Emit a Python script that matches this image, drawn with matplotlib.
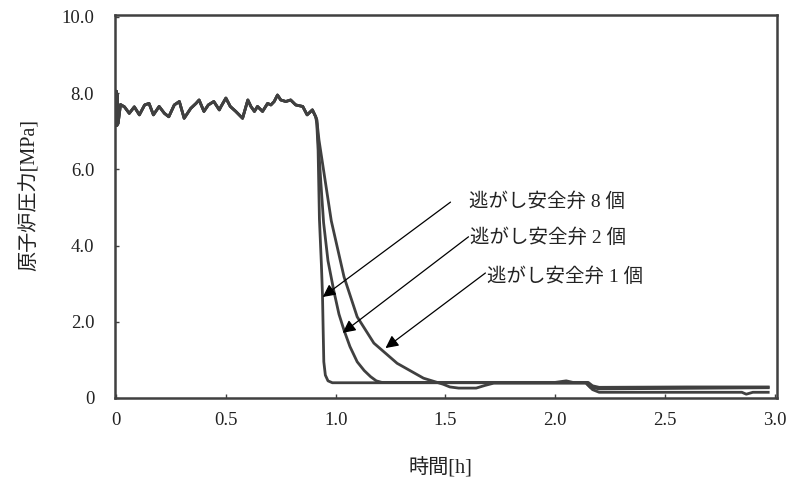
import matplotlib
matplotlib.use("Agg")
import matplotlib.pyplot as plt
import numpy as np

# 共通部分（減圧開始前の圧力変動） [h], [MPa]
t_common = [0.0, 0.002, 0.004, 0.006, 0.009, 0.02, 0.038, 0.06, 0.083, 0.106, 0.13, 0.15, 0.17,
            0.196, 0.22, 0.24, 0.265, 0.288, 0.31, 0.34, 0.364, 0.378, 0.40, 0.42, 0.445,
            0.47, 0.477, 0.50, 0.52, 0.545, 0.576, 0.60, 0.614, 0.63, 0.644, 0.667, 0.69,
            0.705, 0.72, 0.735, 0.75, 0.773, 0.795, 0.818, 0.85, 0.87, 0.894, 0.909]
p_common = [7.7, 8.05, 7.15, 7.95, 7.2, 7.70, 7.64, 7.47, 7.64, 7.43, 7.69, 7.73, 7.43,
            7.65, 7.47, 7.38, 7.69, 7.78, 7.34, 7.60, 7.73, 7.82, 7.52, 7.69, 7.78,
            7.56, 7.64, 7.87, 7.65, 7.52, 7.34, 7.82, 7.65, 7.52, 7.65, 7.52, 7.73,
            7.69, 7.78, 7.95, 7.82, 7.78, 7.82, 7.69, 7.65, 7.43, 7.56, 7.38]

# 逃がし安全弁 8 個
t_8 = [0.914, 0.92, 0.926, 0.935, 0.94, 0.943, 0.946, 0.953, 0.965, 0.985, 1.5, 2.14,
       2.16, 2.2, 2.5, 2.97]
p_8 = [7.2, 6.5, 4.7, 3.5, 2.7, 1.8, 0.95, 0.6, 0.45, 0.40, 0.40, 0.40,
       0.28, 0.24, 0.25, 0.27]

# 逃がし安全弁 2 個
t_2 = [0.914, 0.922, 0.932, 0.945, 0.965, 0.992, 1.015, 1.038, 1.065, 1.098, 1.13, 1.159,
       1.185, 1.21, 1.6, 2.0, 2.05, 2.08, 2.15, 2.17, 2.2, 2.6, 2.97]
p_2 = [7.3, 6.6, 5.7, 4.6, 3.6, 2.8, 2.2, 1.78, 1.35, 0.95, 0.72, 0.56,
       0.45, 0.41, 0.41, 0.41, 0.45, 0.41, 0.41, 0.32, 0.28, 0.29, 0.29]

# 逃がし安全弁 1 個
t_1 = [0.914, 0.924, 0.947, 0.98, 1.038, 1.098, 1.174, 1.28, 1.40, 1.49, 1.52, 1.56,
       1.64, 1.68, 1.72, 2.14, 2.17, 2.2, 2.85, 2.87, 2.9, 2.97]
p_1 = [7.3, 6.77, 5.9, 4.65, 3.18, 2.13, 1.44, 0.91, 0.52, 0.36, 0.29, 0.26,
       0.26, 0.33, 0.39, 0.39, 0.22, 0.15, 0.15, 0.10, 0.15, 0.15]

# 注記（文字位置と矢印）
labels = ["逃がし安全弁 8 個", "逃がし安全弁 2 個", "逃がし安全弁 1 個"]
label_xy = [(1.605, 5.14), (1.614, 4.20), (1.69, 3.18)]
arrow_from = [(1.523, 5.14), (1.605, 4.23), (1.682, 3.28)]
arrow_to = [(0.941, 2.65), (1.032, 1.71), (1.227, 1.31)]

xticks = [0, 0.5, 1.0, 1.5, 2.0, 2.5, 3.0]
xticklabels = ["0", "0.5", "1.0", "1.5", "2.0", "2.5", "3.0"]
yticks = [0, 2, 4, 6, 8, 10]
yticklabels = ["0", "2.0", "4.0", "6.0", "8.0", "10.0"]

FONTS = ["Liberation Serif", "Noto Sans CJK JP"]
plt.rcParams["font.family"] = FONTS
LC = "#404040"

fig = plt.figure(figsize=(7.91, 4.91), dpi=100)
ax = fig.add_axes([115/791, 1-398/491, (777-115)/791, (398-15)/491])

for t, p in [(t_8, p_8), (t_2, p_2), (t_1, p_1)]:
    ax.plot(t_common + t, p_common + p, color=LC, lw=2.0, solid_joinstyle="round")

for s, (tx, ty), a, b in zip(labels, label_xy, arrow_from, arrow_to):
    ax.annotate("", xy=b, xytext=a,
                arrowprops=dict(arrowstyle="-|>", color="black", lw=0.9,
                                mutation_scale=19, shrinkA=0, shrinkB=0))
    ax.text(tx, ty, s, fontsize=14, ha="left", va="center", color="#222222")

ax.set_xlim(-0.005, 3.01)
ax.set_ylim(0, 10.05)
ax.set_xticks(xticks)
ax.set_xticklabels(xticklabels)
ax.set_yticks(yticks)
ax.set_yticklabels(yticklabels)
ax.tick_params(direction="in", length=3, width=1.0, color=LC, labelsize=13.5,
               labelcolor="#222222")
ax.tick_params(axis="x", pad=10)
ax.tick_params(axis="y", pad=15)
for sp in ax.spines.values():
    sp.set_color(LC); sp.set_linewidth(1.8)

fig.text(440/791, 1-468/491, "時間[h]", fontsize=14.5, ha="center", va="center", color="#222222")
fig.text(30/791, 1-195/491, "原子炉圧力[MPa]", fontsize=14.5, rotation=90,
         ha="center", va="center", color="#222222")

fig.savefig("out.png", dpi=100)
